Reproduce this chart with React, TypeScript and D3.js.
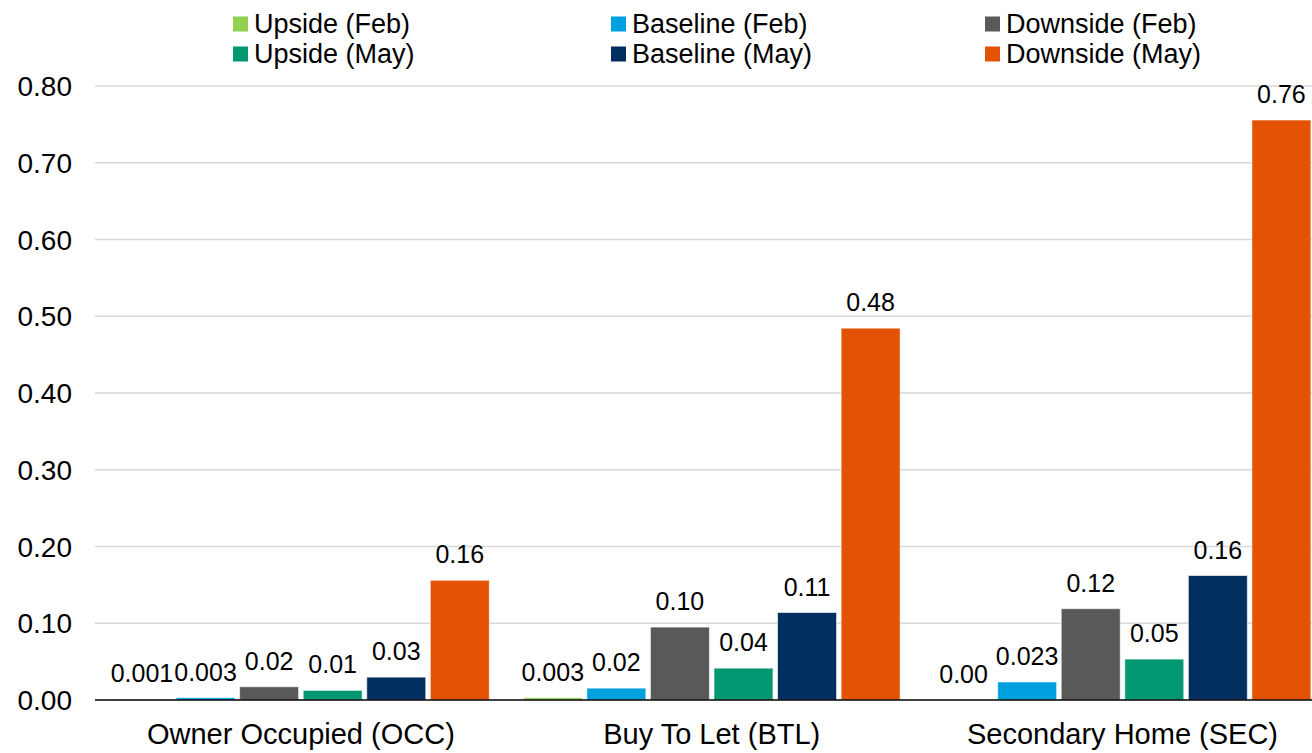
import React from "react";
import * as d3 from "d3";

const categories = ["Owner Occupied (OCC)", "Buy To Let (BTL)", "Secondary Home (SEC)"];
const seriesNames = ["Upside (Feb)", "Baseline (Feb)", "Downside (Feb)", "Upside (May)", "Baseline (May)", "Downside (May)"];
const seriesColors = ["#92d050", "#00a0df", "#595959", "#009771", "#002f5f", "#e35205"];
// values per series, in category order
const upsideFeb = [0.001, 0.003, 0.0003];
const baselineFeb = [0.003, 0.0155, 0.0235];
const downsideFeb = [0.0173, 0.095, 0.119];
const upsideMay = [0.0125, 0.0415, 0.0533];
const baselineMay = [0.0298, 0.114, 0.1622];
const downsideMay = [0.156, 0.4845, 0.7557];
const seriesValues = [upsideFeb, baselineFeb, downsideFeb, upsideMay, baselineMay, downsideMay];
const labelsUpsideFeb = ["0.001", "0.003", "0.00"];
const labelsBaselineFeb = ["0.003", "0.02", "0.023"];
const labelsDownsideFeb = ["0.02", "0.10", "0.12"];
const labelsUpsideMay = ["0.01", "0.04", "0.05"];
const labelsBaselineMay = ["0.03", "0.11", "0.16"];
const labelsDownsideMay = ["0.16", "0.48", "0.76"];
const seriesLabels = [labelsUpsideFeb, labelsBaselineFeb, labelsDownsideFeb, labelsUpsideMay, labelsBaselineMay, labelsDownsideMay];
const yTicks = [0, 0.1, 0.2, 0.3, 0.4, 0.5, 0.6, 0.7, 0.8];

const W = 1312;
const H = 753;
const FONT = "'Liberation Sans', Arial, sans-serif";

export default function App() {
  const y = d3.scaleLinear().domain([0, 0.8]).range([700, 86]);
  const x0 = d3.scaleBand<string>().domain(categories).range([95.5, 1327.9]).padding(0);
  const gw = x0.bandwidth();
  const x1 = d3
    .scaleBand<string>()
    .domain(seriesNames)
    .range([17, gw - 17])
    .paddingInner(0.072)
    .paddingOuter(0);

  const legendCols = [233, 611, 985];
  const legendRows = [23.5, 53.5];

  return (
    <svg
      width={W}
      height={H}
      style={{ position: "absolute", left: 0, top: 0, background: "#fff" }}
      fontFamily={FONT}
    >
      {/* gridlines */}
      {yTicks.slice(1).map((t) => (
        <line key={"g" + t} x1={95} x2={W} y1={y(t)} y2={y(t)} stroke="#d9d9d9" strokeWidth={1.5} />
      ))}
      {/* tick labels */}
      {yTicks.map((t) => (
        <text key={"t" + t} x={72} y={y(t) + 10} textAnchor="end" fontSize={28} fill="#000">
          {d3.format(".2f")(t)}
        </text>
      ))}
      {/* bars */}
      {categories.map((c, ci) => (
        <g key={c} transform={`translate(${x0(c)},0)`}>
          {seriesNames.map((s, si) => {
            const v = seriesValues[si][ci];
            const bx = x1(s)!;
            const by = y(v);
            return (
              <g key={s}>
                <rect
                  x={bx}
                  y={by}
                  width={x1.bandwidth()}
                  height={y(0) - by}
                  fill={seriesColors[si]}
                  stroke="#ffffff"
                  strokeOpacity={0.6}
                  strokeWidth={1}
                />
                <text
                  x={bx + x1.bandwidth() / 2}
                  y={by - 17}
                  textAnchor="middle"
                  fontSize={25}
                  fill="#000"
                >
                  {seriesLabels[si][ci]}
                </text>
              </g>
            );
          })}
          <text x={gw / 2} y={744} textAnchor="middle" fontSize={29} fill="#000">
            {c}
          </text>
        </g>
      ))}
      {/* zero axis */}
      <line x1={95} x2={W} y1={y(0)} y2={y(0)} stroke="#000" strokeWidth={1.5} />
      {/* legend */}
      {seriesNames.map((s, i) => {
        const col = i % 3;
        const row = Math.floor(i / 3);
        const lx = legendCols[col];
        const ly = legendRows[row];
        return (
          <g key={"l" + s}>
            <rect x={lx} y={ly - 7} width={15} height={15} fill={seriesColors[i]} />
            <text x={lx + 21} y={ly + 9.5} fontSize={27} fill="#000">
              {s}
            </text>
          </g>
        );
      })}
    </svg>
  );
}
